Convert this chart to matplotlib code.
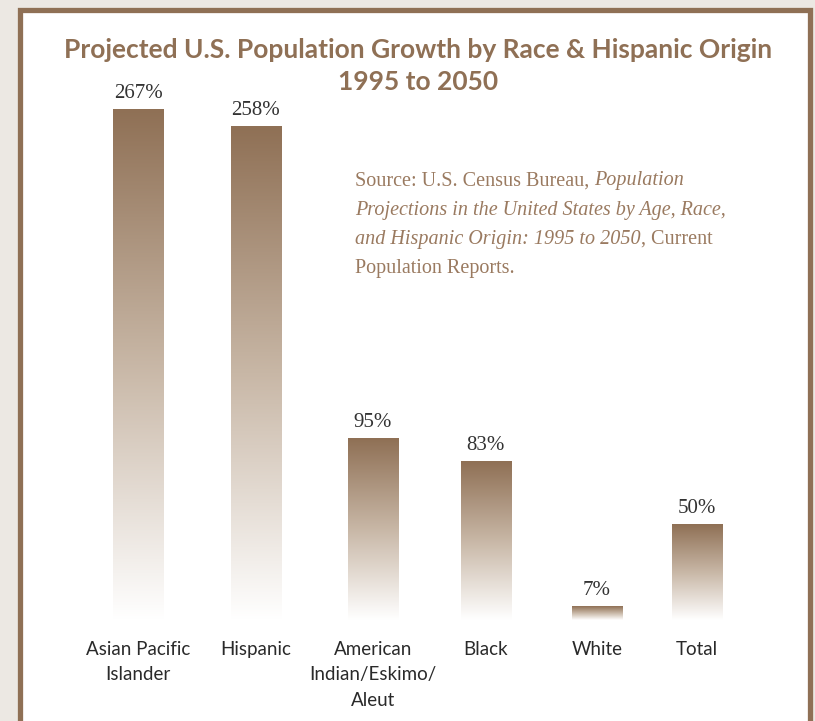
import numpy as np
import matplotlib.pyplot as plt
from matplotlib.patches import Rectangle
from matplotlib.colors import LinearSegmentedColormap

groups = ["Asian Pacific\nIslander", "Hispanic", "American\nIndian/Eskimo/\nAleut",
          "Black", "White", "Total"]
growth = [267, 258, 95, 83, 7, 50]
value_labels = ["267%", "258%", "95%", "83%", "7%", "50%"]

brown = "#8f7055"
text_brown = "#9a7a60"
sans = ["Lato", "DejaVu Sans"]
serif = ["Liberation Serif", "DejaVu Serif"]

fig = plt.figure(figsize=(8.15, 7.21), dpi=100)
fig.patch.set_facecolor("#ece8e3")

W, H = 815, 721

# white panel with brown frame
panel = Rectangle((19.5 / W, -0.05), 790 / W, 1.05 - 10.5 / H,
                  transform=fig.transFigure, facecolor="white",
                  edgecolor=brown, linewidth=3.8, zorder=-1)
fig.patches.append(panel)

ax = fig.add_axes([40 / W, 1 - 620 / H, 755 / W, 520 / H])
ax.set_zorder(1)
ax.set_facecolor("none")
for s in ax.spines.values():
    s.set_visible(False)
ax.set_yticks([])

# bars are spaced slightly unevenly
x = np.array([0, 1.055, 2.1, 3.11, 4.105, 5.0])

cmap = LinearSegmentedColormap.from_list("fade", ["#ffffff", "#c8b7a6", brown])
grad = np.linspace(0, 1, 256).reshape(-1, 1)
width = 0.45
for xi, val, lab in zip(x, growth, value_labels):
    ax.imshow(grad, cmap=cmap, origin="lower", aspect="auto",
              extent=(xi - width / 2, xi + width / 2, 0, val), zorder=2)
    ax.text(xi, val + 3.5, lab, ha="center", va="bottom", fontsize=15,
            family=serif, color="#333333")
ax.set_xlim(-0.877, 5.877)
ax.set_ylim(0, 272)

ax.set_xticks(x)
ax.set_xticklabels(groups, family=sans, fontsize=13.5, color="#2a2a2a",
                   linespacing=1.6)
ax.tick_params(axis="x", length=0, pad=15)

fig.text(418 / W, 1 - 50 / H, "Projected U.S. Population Growth by Race & Hispanic Origin",
         ha="center", va="center", fontsize=19, fontweight="bold",
         family=sans, color=brown)
fig.text(418 / W, 1 - 82 / H, "1995 to 2050", ha="center", va="center",
         fontsize=19, fontweight="bold", family=sans, color=brown)

# source note, roman and italic runs on each line
source_lines = [
    [("Source: U.S. Census Bureau, ", "normal"), ("Population", "italic")],
    [("Projections in the United States by Age, Race,", "italic")],
    [("and Hispanic Origin: 1995 to 2050", "italic"), (", Current", "normal")],
    [("Population Reports.", "normal")],
]
fig.canvas.draw()
renderer = fig.canvas.get_renderer()
y0 = 181
for i, runs in enumerate(source_lines):
    xpos = 355
    for txt, style in runs:
        t = fig.text(xpos / W, 1 - (y0 + i * 29) / H, txt, ha="left",
                     va="center", fontsize=14.5, family=serif, style=style,
                     color=text_brown)
        bb = t.get_window_extent(renderer=renderer)
        xpos += bb.width

fig.savefig("out.png", dpi=100, facecolor=fig.get_facecolor())
